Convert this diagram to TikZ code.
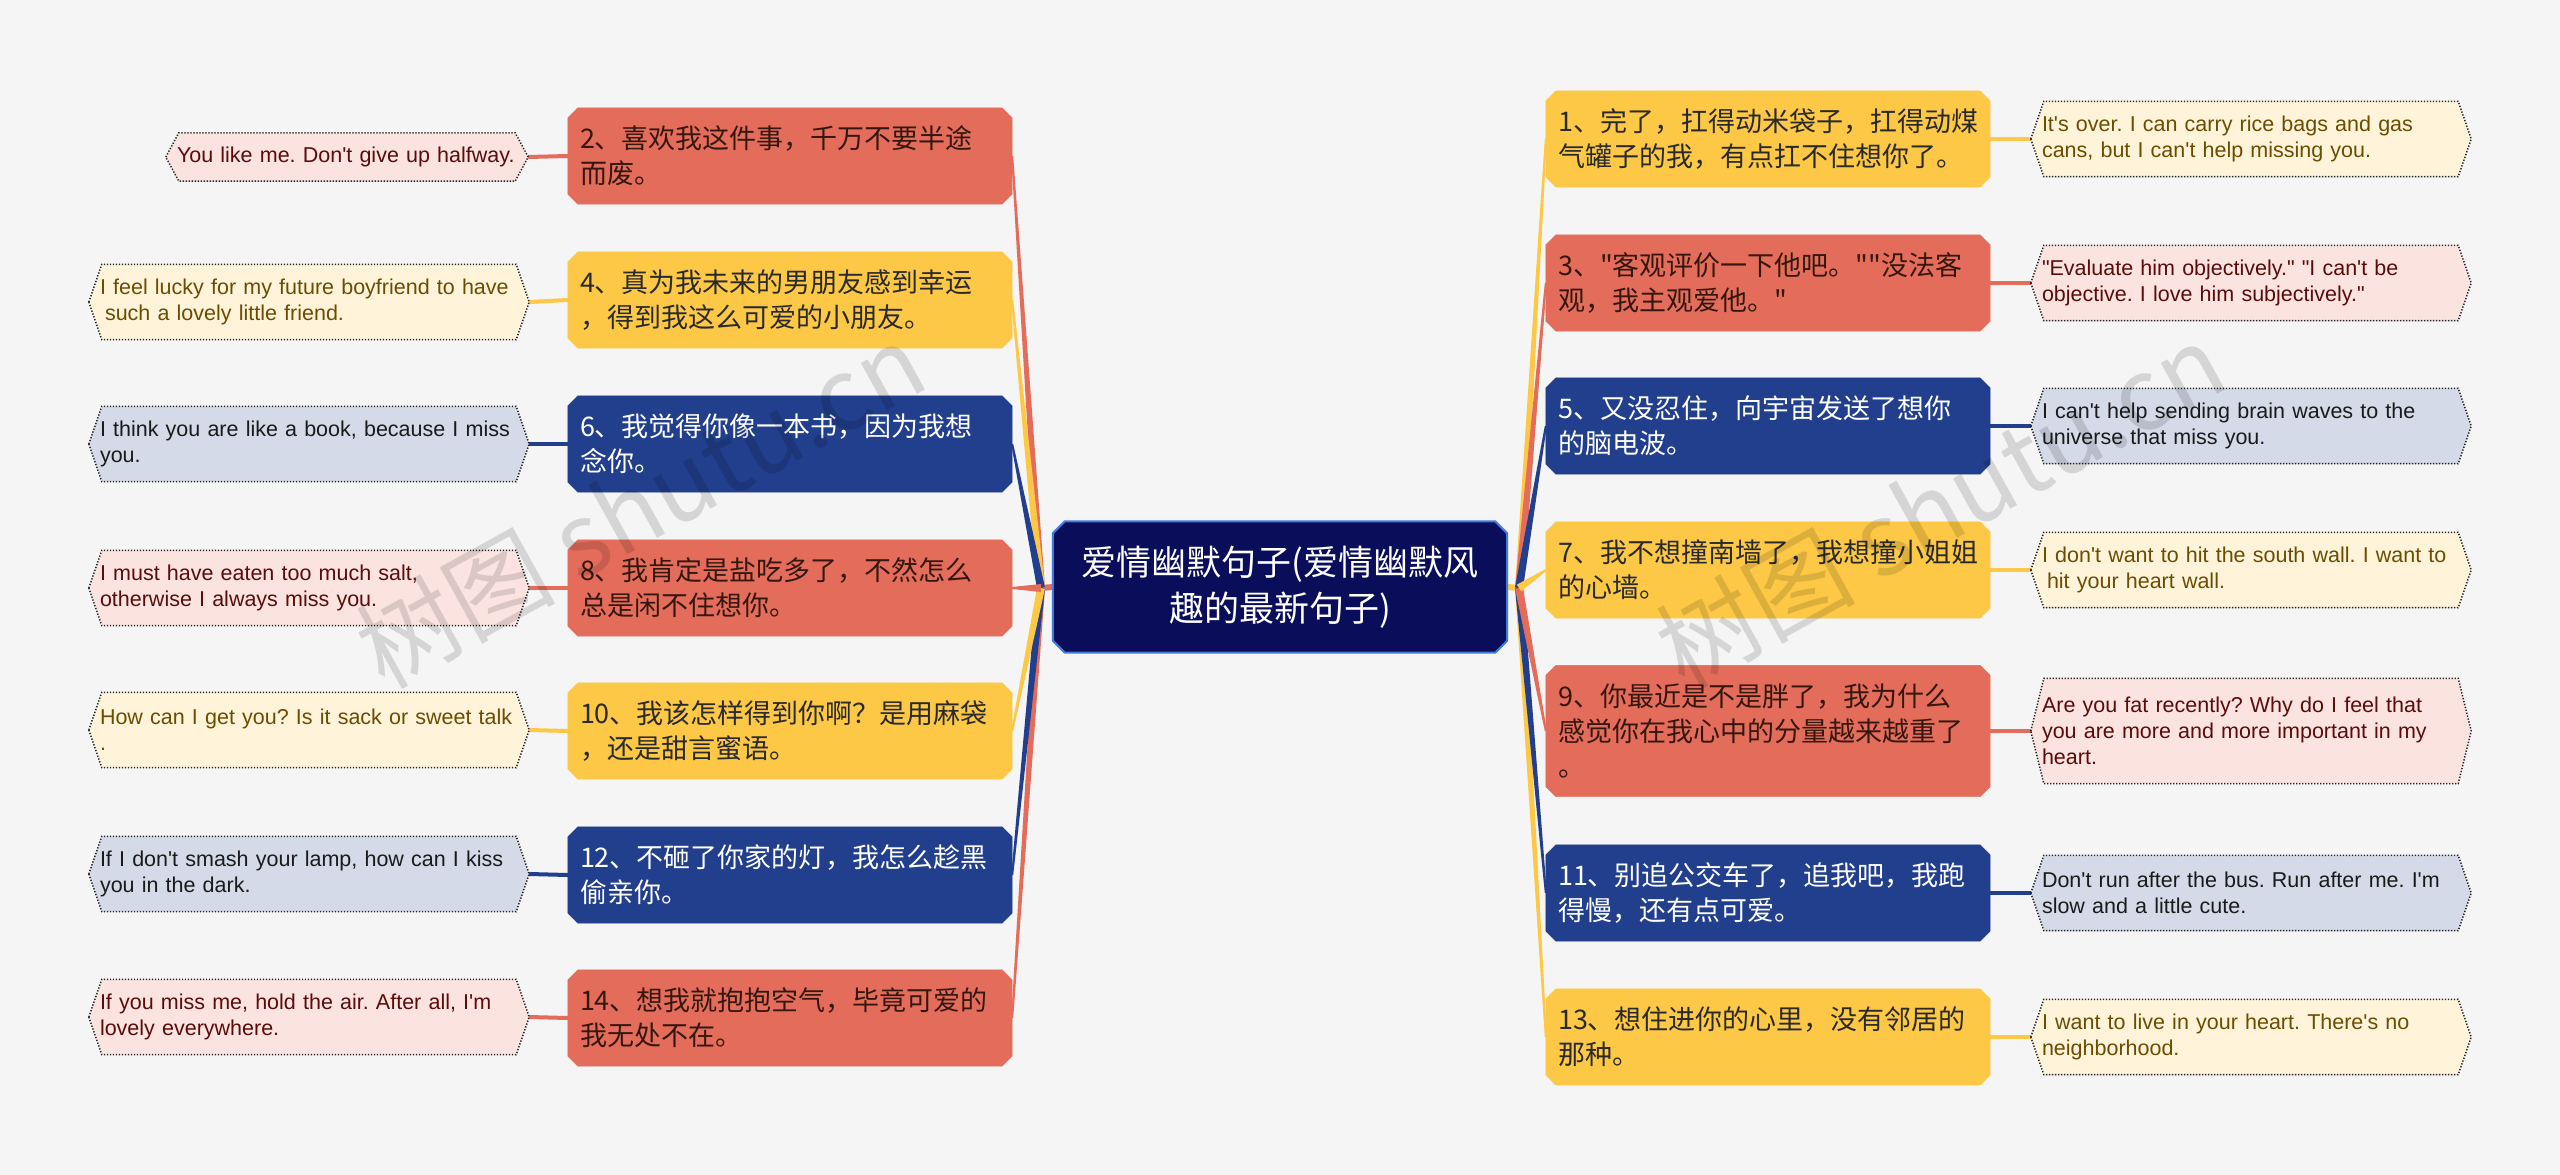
\documentclass[tikz,border=0pt]{standalone}
\usepackage{fontspec}
\usetikzlibrary{calc,backgrounds}
\newfontfamily\cjk{Noto Sans CJK SC}[Ligatures=TeXOff]
\newfontfamily\en{Liberation Sans}[Ligatures=TeXOff]
\frenchspacing
\definecolor{bgc}{HTML}{F5F5F5}
\definecolor{redc}{HTML}{E36D5A}
\definecolor{yelc}{HTML}{FDC846}
\definecolor{bluc}{HTML}{213F8C}
\definecolor{navy}{HTML}{0A0E5A}
\definecolor{navyb}{HTML}{3E7BE0}
\definecolor{lred}{HTML}{FBE4E0}
\definecolor{lyel}{HTML}{FFF4DA}
\definecolor{lblu}{HTML}{D4DAE8}
\definecolor{tred}{HTML}{5A0C0C}
\definecolor{tyel}{HTML}{6B4C00}
\definecolor{tblu}{HTML}{1A1A1A}
\definecolor{zred}{HTML}{35170F}
\definecolor{zyel}{HTML}{2A2A2A}
\definecolor{dotc}{HTML}{222222}
\newcommand\chamf[3]{\filldraw[#2] ($(#1.north west)+(#3,0)$) -- ($(#1.north east)+(-#3,0)$) -- ($(#1.north east)+(0,#3)$) -- ($(#1.south east)+(0,-#3)$) -- ($(#1.south east)+(-#3,0)$) -- ($(#1.south west)+(#3,0)$) -- ($(#1.south west)+(0,-#3)$) -- ($(#1.north west)+(0,#3)$) -- cycle;}
\newcommand\hexa[2]{\filldraw[fill=#2, draw=dotc, line width=1.5pt, dash pattern=on 1.3pt off 1.7pt] (#1.west) -- ($(#1.north west)+(13,0)$) -- ($(#1.north east)+(-13,0)$) -- (#1.east) -- ($(#1.south east)+(-13,0)$) -- ($(#1.south west)+(13,0)$) -- cycle;}
\newcommand\taper[3]{\fill[#3] ($(#1)!4pt!90:(#2)$) -- ($(#2)!1pt!-90:(#1)$) -- ($(#2)!1pt!90:(#1)$) -- ($(#1)!4pt!-90:(#2)$) -- cycle;}
\begin{document}
\begin{tikzpicture}[x=1pt,y=-1pt,
  zh/.style={rectangle, inner xsep=12pt, inner ysep=3pt, text width=420pt, minimum height=96pt, align=left, font=\cjk\fontsize{27}{35}\selectfont},
  zhr/.style={zh, text=zred}, zhy/.style={zh, text=zyel}, zhb/.style={zh, text=white},
  enx/.style={rectangle, inner xsep=11pt, inner ysep=3pt, text width=418pt, minimum height=75pt, align=left, font=\en\fontsize{21.5}{26}\selectfont},
  enr/.style={enx, text=tred}, eny/.style={enx, text=tyel}, enb/.style={enx, text=tblu},
  link/.style={line width=4pt},
  wmark/.style={rotate=29, font=\cjk\fontsize{100}{100}\selectfont, text=black, opacity=0.13}
]
\useasboundingbox (0,0) rectangle (2560,1175);
% center
\node[rectangle, minimum width=454pt, minimum height=131pt, align=center, text=white, font=\cjk\fontsize{35}{46}\selectfont] (c) at (1280,587) {爱情幽默句子(爱情幽默风\\趣的最新句子)};
\coordinate (jl) at (1041,588);
\coordinate (jr) at (1519,588);
% left main
\node[zhr] (l2) at (790,156) {2、喜欢我这件事，千万不要半途\\而废。};
\node[zhy] (l4) at (790,300) {4、真为我未来的男朋友感到幸运\\，得到我这么可爱的小朋友。};
\node[zhb] (l6) at (790,444) {6、我觉得你像一本书，因为我想\\念你。};
\node[zhr] (l8) at (790,588) {8、我肯定是盐吃多了，不然怎么\\总是闲不住想你。};
\node[zhy] (l10) at (790,731) {10、我该怎样得到你啊？是用麻袋\\，还是甜言蜜语。};
\node[zhb] (l12) at (790,875) {12、不砸了你家的灯，我怎么趁黑\\偷亲你。};
\node[zhr] (l14) at (790,1018) {14、想我就抱抱空气，毕竟可爱的\\我无处不在。};
% right main
\node[zhy] (r1) at (1768,139) {1、完了，扛得动米袋子，扛得动煤\\气罐子的我，有点扛不住想你了。};
\node[zhr] (r3) at (1768,283) {3、"客观评价一下他吧。""没法客\\观，我主观爱他。"};
\node[zhb] (r5) at (1768,426) {5、又没忍住，向宇宙发送了想你\\的脑电波。};
\node[zhy] (r7) at (1768,570) {7、我不想撞南墙了，我想撞小姐姐\\的心墙。};
\node[zhr, minimum height=131pt] (r9) at (1768,731) {9、你最近是不是胖了，我为什么\\感觉你在我心中的分量越来越重了\\。};
\node[zhb] (r11) at (1768,893) {11、别追公交车了，追我吧，我跑\\得慢，还有点可爱。};
\node[zhy] (r13) at (1768,1037) {13、想住进你的心里，没有邻居的\\那种。};
% left english
\node[enr, text width=340pt, minimum height=48pt] (e2) at (347,157) {\mbox{You like me. Don't give up halfway.}};
\node[eny] (e4) at (309,302) {\mbox{I feel lucky for my future boyfriend to have}\\\mbox{\hspace{5pt}such a lovely little friend.}};
\node[enb] (e6) at (309,444) {\mbox{I think you are like a book, because I miss}\\\mbox{you.}};
\node[enr] (e8) at (309,588) {\mbox{I must have eaten too much salt,}\\\mbox{otherwise I always miss you.}};
\node[eny] (e10) at (309,730) {\mbox{How can I get you? Is it sack or sweet talk}\\\mbox{.}};
\node[enb] (e12) at (309,874) {\mbox{If I don't smash your lamp, how can I kiss}\\\mbox{you in the dark.}};
\node[enr] (e14) at (309,1017) {\mbox{If you miss me, hold the air. After all, I'm}\\\mbox{lovely everywhere.}};
% right english
\node[eny] (f1) at (2251,139) {\mbox{It's over. I can carry rice bags and gas}\\\mbox{cans, but I can't help missing you.}};
\node[enr] (f3) at (2251,283) {\mbox{"Evaluate him objectively." "I can't be}\\\mbox{objective. I love him subjectively."}};
\node[enb] (f5) at (2251,426) {\mbox{I can't help sending brain waves to the}\\\mbox{universe that miss you.}};
\node[eny] (f7) at (2251,570) {\mbox{I don't want to hit the south wall. I want to}\\\mbox{\hspace{5pt}hit your heart wall.}};
\node[enr, minimum height=105pt] (f9) at (2251,731) {\mbox{Are you fat recently? Why do I feel that}\\\mbox{you are more and more important in my}\\\mbox{heart.}};
\node[enb] (f11) at (2251,893) {\mbox{Don't run after the bus. Run after me. I'm}\\\mbox{slow and a little cute.}};
\node[eny] (f13) at (2251,1037) {\mbox{I want to live in your heart. There's no}\\\mbox{neighborhood.}};
\begin{scope}[on background layer]
\fill[bgc] (0,0) rectangle (2560,1175);
% connectors centre -> main
\draw[redc, line width=6pt] (jl) -- (c.west);
\draw[yelc, line width=6pt] (c.east) -- (jr);
\taper{jl}{l2.east}{redc}
\taper{jl}{l14.east}{redc}
\taper{jl}{l4.east}{yelc}
\taper{jl}{l12.east}{bluc}
\taper{jl}{l6.east}{bluc}
\taper{jl}{l10.east}{yelc}
\taper{jl}{l8.east}{redc}
\taper{jr}{r1.west}{yelc}
\taper{jr}{r13.west}{yelc}
\taper{jr}{r3.west}{redc}
\taper{jr}{r11.west}{bluc}
\taper{jr}{r5.west}{bluc}
\taper{jr}{r9.west}{redc}
\taper{jr}{r7.west}{yelc}
% main -> english
\draw[link, redc] (l2.west) -- (e2.east);
\draw[link, yelc] (l4.west) -- (e4.east);
\draw[link, bluc] (l6.west) -- (e6.east);
\draw[link, redc] (l8.west) -- (e8.east);
\draw[link, yelc] (l10.west) -- (e10.east);
\draw[link, bluc] (l12.west) -- (e12.east);
\draw[link, redc] (l14.west) -- (e14.east);
\draw[link, yelc] (r1.east) -- (f1.west);
\draw[link, redc] (r3.east) -- (f3.west);
\draw[link, bluc] (r5.east) -- (f5.west);
\draw[link, yelc] (r7.east) -- (f7.west);
\draw[link, redc] (r9.east) -- (f9.west);
\draw[link, bluc] (r11.east) -- (f11.west);
\draw[link, yelc] (r13.east) -- (f13.west);
% shapes
\chamf{c}{fill=navy, draw=navyb, line width=2pt}{12}
\foreach \n in {l2,l8,l14,r3,r9} {\chamf{\n}{fill=redc, draw=redc}{10}}
\foreach \n in {l4,l10,r1,r7,r13} {\chamf{\n}{fill=yelc, draw=yelc}{10}}
\foreach \n in {l6,l12,r5,r11} {\chamf{\n}{fill=bluc, draw=bluc}{10}}
\foreach \n in {e2,e8,e14,f3,f9} {\hexa{\n}{lred}}
\foreach \n in {e4,e10,f1,f7,f13} {\hexa{\n}{lyel}}
\foreach \n in {e6,e12,f5,f11} {\hexa{\n}{lblu}}
\end{scope}
% watermark
\node[wmark] (wm1) at (640,505) {树图 shutu.cn};
\node[wmark] (wm2) at (1940,505) {树图 shutu.cn};
\end{tikzpicture}
\end{document}
